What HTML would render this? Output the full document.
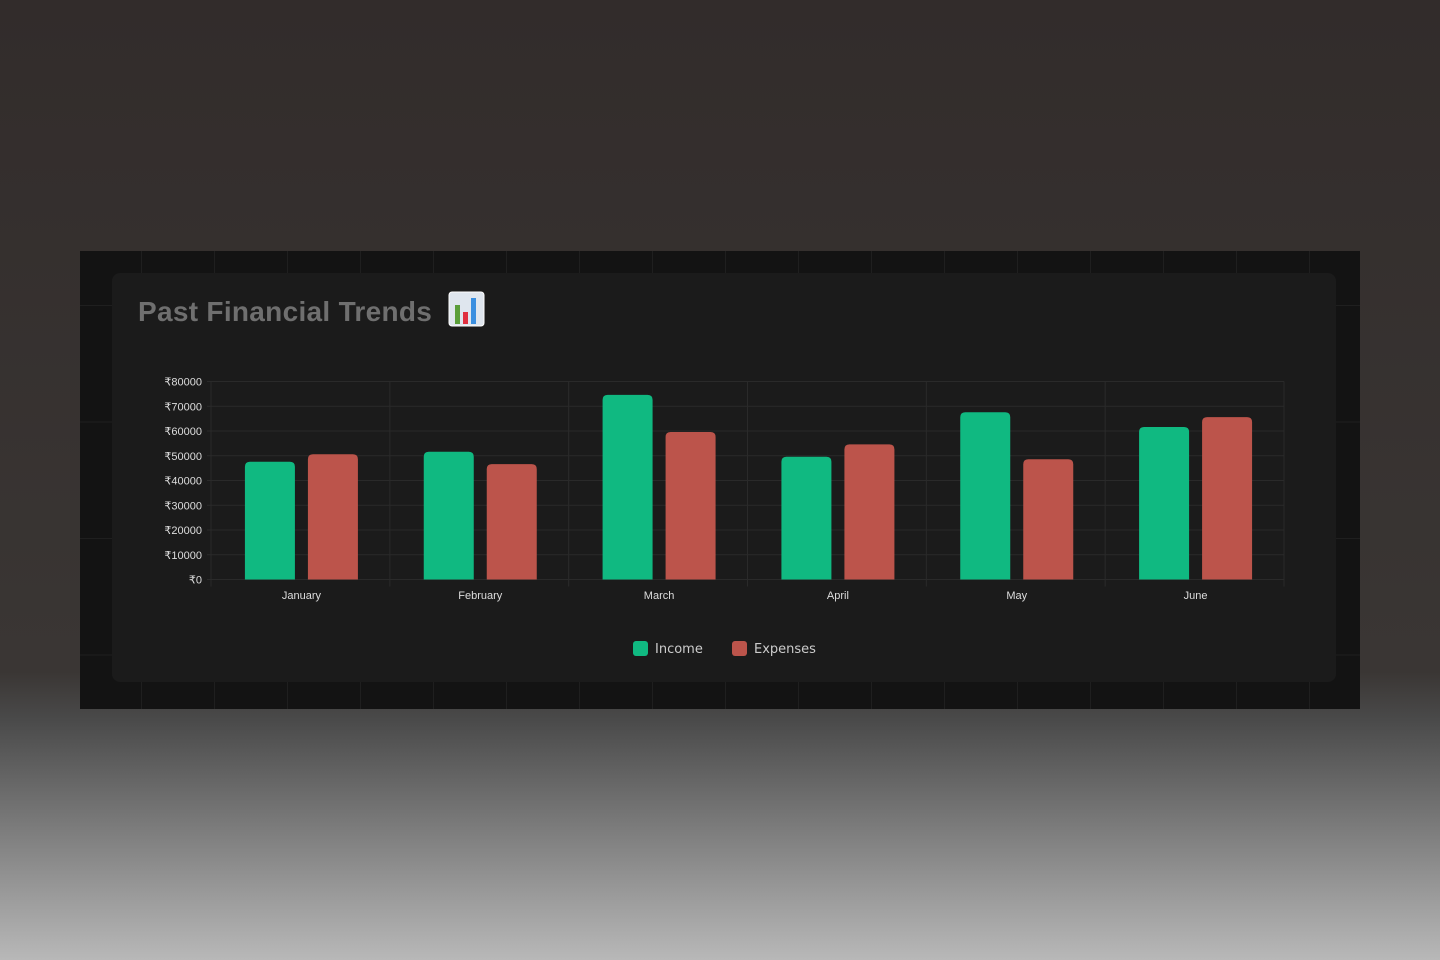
<!DOCTYPE html>
<html><head><meta charset="utf-8"><style>
html,body{margin:0;width:1440px;height:960px;overflow:hidden}
body{background:linear-gradient(180deg,#322c2b 0%,#3a3634 70%,#4a4a4a 75%,#b8b8b8 100%);font-family:"Liberation Sans",sans-serif;position:relative}
#outer{position:absolute;left:80px;top:251px;width:1280px;height:458px;background-color:#131313;
background-image:linear-gradient(90deg,#1f1f1f 1px,transparent 1px),linear-gradient(180deg,#1f1f1f 1px,transparent 1px);
background-size:73px 116.5px;background-position:61px 54px}
#card{position:absolute;left:112px;top:273px;width:1224px;height:409px;background:#1b1b1b;border-radius:8px}
#title{position:absolute;left:138px;top:296px;font-size:28px;line-height:32px;font-weight:bold;color:#6f6f6f;letter-spacing:0.3px;font-family:"Liberation Sans",sans-serif}
svg{position:absolute;left:0;top:0}
</style></head><body>
<div id="outer"></div>
<div id="card"></div>
<div id="title">Past Financial Trends</div>
<svg width="1440" height="960" id="chart">
<g>
<rect x="449" y="292" width="35" height="34" rx="3" fill="#dfe6ee" stroke="#fff"/>
<rect x="455" y="305" width="5" height="19" fill="#5a9e3a"/>
<rect x="463" y="312" width="5" height="12" fill="#e03040"/>
<rect x="471" y="298" width="5" height="26" fill="#3a8fe0"/>
</g>
</svg>
<script>
const categories=["January","February","March","April","May","June"];
const income=[48000,52000,75000,50000,68000,62000];
const expenses=[51000,47000,60000,55000,49000,66000];
const yTicks=[0,10000,20000,30000,40000,50000,60000,70000,80000];
const svg=document.getElementById('chart');
const NS="http://www.w3.org/2000/svg";
const x0=211,x1=1284,y0=579.5,y1=381.5,yMax=80000;
const bw=(x1-x0)/categories.length;
const y=v=>y0-(v/yMax)*(y0-y1);
function el(t,a){const e=document.createElementNS(NS,t);for(const k in a)e.setAttribute(k,a[k]);svg.appendChild(e);return e;}
yTicks.forEach(v=>{
 const l=el('line',{x1:x0-4,x2:x1,y1:y(v),y2:y(v),stroke:'#2a2a2a','stroke-width':1});
 
 
 const t=el('text',{x:202,y:y(v)+4,'text-anchor':'end','font-size':11,fill:'#ddd','font-family':'Liberation Sans, DejaVu Sans, sans-serif'});
 t.textContent='₹'+v;
 
 
});
for(let i=0;i<=categories.length;i++){
 const l=el('line',{x1:x0+i*bw,x2:x0+i*bw,y1:y1,y2:y0+7,stroke:'#2a2a2a','stroke-width':1});
 
 
}
function bar(xl,v,c,n){
 const top=y(v)+1,r=5;
 const p=el('path',{d:`M${xl},${y0}V${top+r}Q${xl},${top} ${xl+r},${top}H${xl+50-r}Q${xl+50},${top} ${xl+50},${top+r}V${y0}Z`,fill:c});
 
 
}
categories.forEach((c,i)=>{
 const cx=x0+bw*(i+0.5);
 bar(cx-55.5,income[i],'#10b981','income-bar-'+c.toLowerCase());
 bar(cx+7.5,expenses[i],'#bc544b','expenses-bar-'+c.toLowerCase());
 const t=el('text',{x:cx+1,y:599,'text-anchor':'middle','font-size':11,fill:'#ddd'});
 t.textContent=c;
 
 
});
[['Income','#10b981',633],['Expenses','#bc544b',732]].forEach(([n,c,x])=>{
 const r=el('rect',{x:x,y:641,width:15,height:15,rx:3,fill:c});
 
 
 const t=el('text',{x:x+22,y:653,'font-size':13,fill:'#ccc','font-family':'DejaVu Sans, sans-serif'});
 t.textContent=n;
 
 
});
</script>
</body></html>
